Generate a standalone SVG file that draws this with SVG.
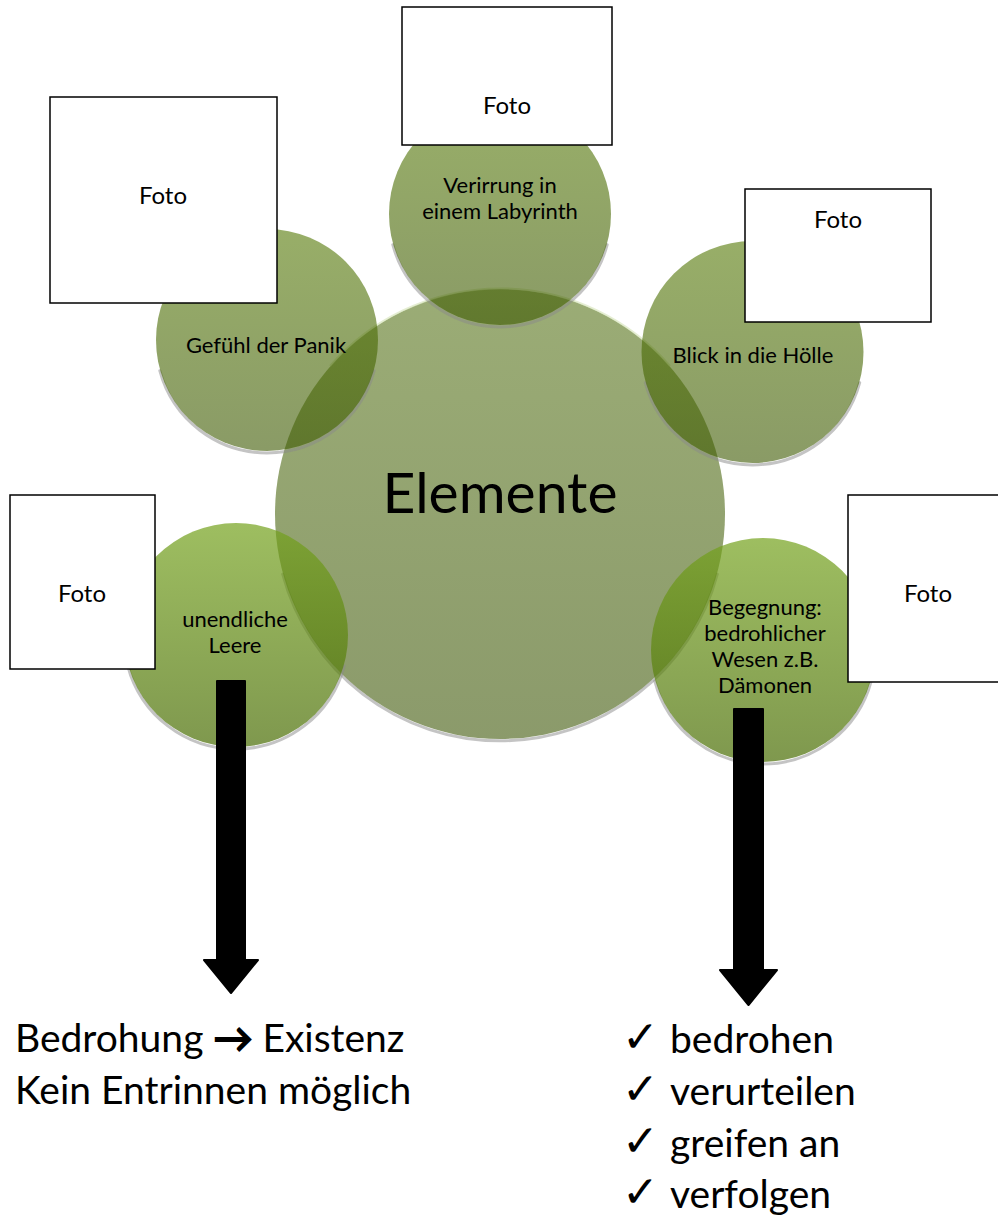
<svg xmlns="http://www.w3.org/2000/svg" width="998" height="1218" viewBox="0 0 998 1218">
<style>
text{font-family:Lato,"Liberation Sans",sans-serif;fill:#000}
.lbl{font-size:22px;text-anchor:middle}
.foto{font-size:24px;text-anchor:middle}
.big{font-size:57px;text-anchor:middle}
.bot{font-size:39px}
.chk{font-family:"DejaVu Sans",sans-serif;font-size:44px}
.arr{stroke:#000;stroke-width:2}
.box{fill:#fff;stroke:#000;stroke-width:1.5}
.shd{fill:none;stroke:#8a8a8a;stroke-width:3;stroke-opacity:0.5;stroke-linecap:round}
.arrow{fill:#000;stroke:#000;stroke-width:2;stroke-linejoin:round}
</style>
<defs>
<linearGradient id="gC" x1="0" y1="0" x2="0" y2="1">
<stop offset="0" stop-color="#58751a" stop-opacity="0.6"/>
<stop offset="1" stop-color="#3e5708" stop-opacity="0.6"/>
</linearGradient>
<linearGradient id="gT" x1="0" y1="0" x2="0" y2="1">
<stop offset="0" stop-color="#537803" stop-opacity="0.6"/>
<stop offset="1" stop-color="#3c5800" stop-opacity="0.6"/>
</linearGradient>
<linearGradient id="gB" x1="0" y1="0" x2="0" y2="1">
<stop offset="0" stop-color="#74a21c" stop-opacity="0.7"/>
<stop offset="1" stop-color="#486c02" stop-opacity="0.7"/>
</linearGradient>
</defs>

<g id="center">
<path class="shd" d="M717.3,574.2 A225,225 0 0 1 282.7,574.2"/>
<circle cx="500" cy="514" r="225" fill="url(#gC)"/>
<path d="M330,366 A225,225 0 0 1 670,366" fill="none" stroke="#d4e3b5" stroke-width="2" stroke-opacity="0.6"/>
<text class="big" x="500" y="513">Elemente</text>
</g>

<g id="node-verirrung">
<path class="shd" d="M607.2,244.7 A111,111 0 0 1 392.8,244.7"/>
<circle cx="500" cy="214" r="111" fill="url(#gT)"/>
<text class="lbl" x="500" y="193">Verirrung in</text>
<text class="lbl" x="500" y="219">einem Labyrinth</text>
</g>

<g id="node-panik">
<path class="shd" d="M374.2,370.7 A111,111 0 0 1 159.8,370.7"/>
<circle cx="267" cy="340" r="111" fill="url(#gT)"/>
<text class="lbl" x="266" y="353">Gefühl der Panik</text>
</g>

<g id="node-hoelle">
<path class="shd" d="M859.7,382.7 A111,111 0 0 1 645.3,382.7"/>
<circle cx="752.5" cy="352" r="111" fill="url(#gT)"/>
<text class="lbl" x="753" y="363">Blick in die Hölle</text>
</g>

<g id="node-leere">
<path class="shd" d="M344.2,666 A112,112 0 0 1 127.8,666"/>
<circle cx="236" cy="635" r="112" fill="url(#gB)"/>
<text class="lbl" x="235" y="627">unendliche</text>
<text class="lbl" x="235" y="653">Leere</text>
</g>

<g id="node-begegnung">
<path class="shd" d="M871.2,681 A112,112 0 0 1 654.8,681"/>
<circle cx="763" cy="650" r="112" fill="url(#gB)"/>
<text class="lbl" x="765" y="615">Begegnung:</text>
<text class="lbl" x="765" y="641">bedrohlicher</text>
<text class="lbl" x="765" y="667">Wesen z.B.</text>
<text class="lbl" x="765" y="693">Dämonen</text>
</g>

<g id="foto-top">
<rect class="box" x="402" y="7" width="210" height="138"/>
<text class="foto" x="507" y="114">Foto</text>
</g>
<g id="foto-left">
<rect class="box" x="50" y="97" width="227" height="206"/>
<text class="foto" x="163" y="204">Foto</text>
</g>
<g id="foto-right">
<rect class="box" x="745" y="189" width="186" height="133"/>
<text class="foto" x="838" y="228">Foto</text>
</g>
<g id="foto-bottom-left">
<rect class="box" x="10" y="495" width="145" height="174"/>
<text class="foto" x="82" y="602">Foto</text>
</g>
<g id="foto-bottom-right">
<rect class="box" x="848" y="495" width="152" height="187"/>
<text class="foto" x="928" y="602">Foto</text>
</g>

<g id="connectors">
<polygon class="arrow" points="217,681 245,681 245,960 258,960 231,993 204,960 217,960"/>
<polygon class="arrow" points="734,709 763,709 763,970 777,970 748.5,1005 720,970 734,970"/>
</g>

<g id="text-left">
<text class="bot" x="15" y="1052">Bedrohung <tspan class="arr">→</tspan> Existenz</text>
<text class="bot" x="15" y="1104">Kein Entrinnen möglich</text>
</g>

<g id="text-right">
<text class="chk" x="622" y="1052">✓</text>
<text class="bot" x="670" y="1053">bedrohen</text>
<text class="chk" x="622" y="1104">✓</text>
<text class="bot" x="670" y="1105">verurteilen</text>
<text class="chk" x="622" y="1156">✓</text>
<text class="bot" x="670" y="1157">greifen an</text>
<text class="chk" x="622" y="1207">✓</text>
<text class="bot" x="670" y="1208">verfolgen</text>
</g>
</svg>
